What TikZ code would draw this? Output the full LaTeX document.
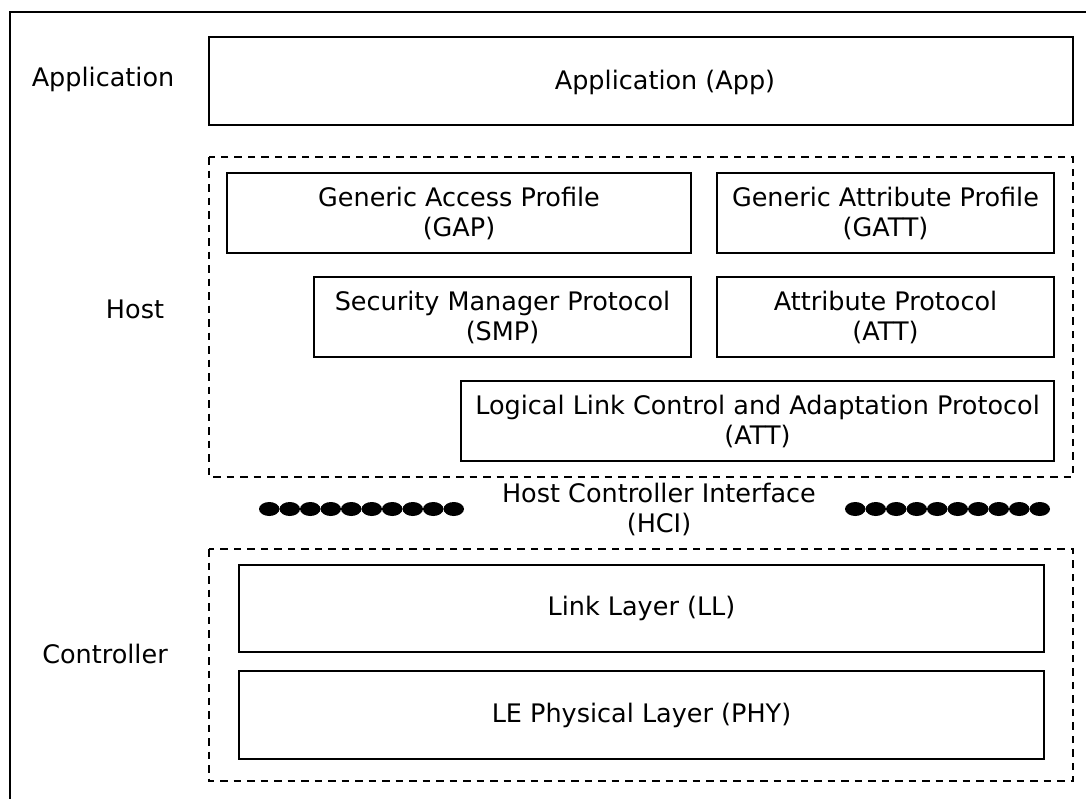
\documentclass[tikz,border=0pt]{standalone}
\usepackage{fontspec}
\setmainfont{DejaVu Sans}
\begin{document}
\begin{tikzpicture}[x=1pt,y=-1pt,
  every node/.style={font=\fontsize{25.5}{30}\selectfont, align=center, inner sep=0pt},
  box/.style={draw, line width=1.25pt},
  group/.style={draw, line width=1.25pt, dash pattern=on 7.5pt off 6pt}]
\useasboundingbox (0,0) rectangle (1086,798);
\clip (0,0) rectangle (1086,798);
\fill[white] (0,0) rectangle (1086,798);
% outer frame (extends past the picture edge)
\draw[line width=1.25pt] (10,12) rectangle (1120,830);
% side labels
\node (lapp) at (103,79) {Application};
\node (lhost) at (135,309) {Host};
\node (lctrl) at (105,654) {Controller};
% application
\draw[box] (209,37) rectangle (1073,125);
\node (app) at (665,82) {Application (App)};
% host group
\draw[group] (209,157) rectangle (1073,477);
\node[box, minimum width=464pt, minimum height=80pt] (gap) at (459,213) {Generic Access Profile\\(GAP)};
\node[box, minimum width=337pt, minimum height=80pt] (gatt) at (885.5,213) {Generic Attribute Profile\\(GATT)};
\node[box, minimum width=377pt, minimum height=80pt] (smp) at (502.5,317) {Security Manager Protocol\\(SMP)};
\node[box, minimum width=337pt, minimum height=80pt] (att) at (885.5,317) {Attribute Protocol\\(ATT)};
\node[box, minimum width=593pt, minimum height=80pt] (l2cap) at (757.5,421) {Logical Link Control and Adaptation Protocol\\(ATT)};
% HCI
\node (hci) at (659,509) {Host Controller Interface\\(HCI)};
\foreach \i in {0,...,9} {
  \fill (269.25+20.5*\i,509) ellipse [x radius=10.25pt, y radius=7pt];
  \fill (855.25+20.5*\i,509) ellipse [x radius=10.25pt, y radius=7pt];
}
% controller group
\draw[group] (209,549) rectangle (1073,781);
\node[box, minimum width=805pt, minimum height=87pt] (ll) at (641.5,608.5) {Link Layer (LL)};
\node[box, minimum width=805pt, minimum height=88pt] (phy) at (641.5,715) {LE Physical Layer (PHY)};
\end{tikzpicture}
\end{document}
